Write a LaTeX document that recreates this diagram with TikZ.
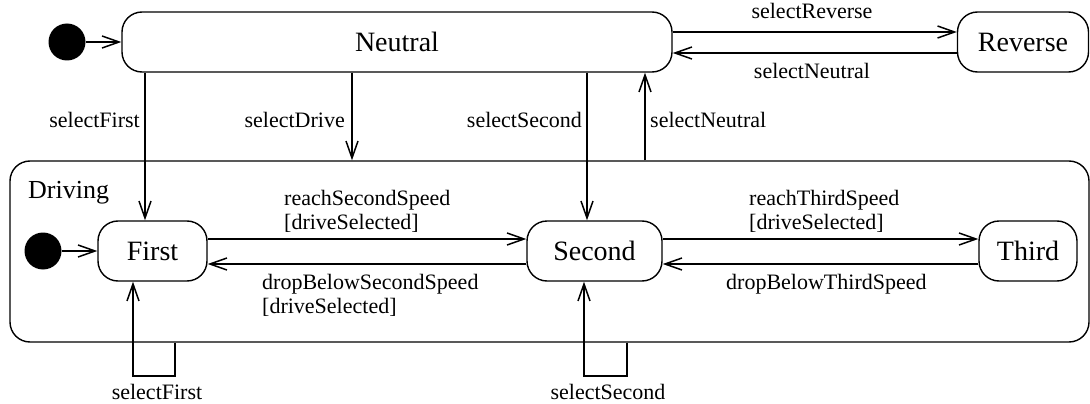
\documentclass[tikz,border=0pt]{standalone}
\usepackage{fontspec}
\setmainfont{Liberation Serif}
\usetikzlibrary{arrows.meta,positioning,calc}

\tikzset{
	state/.style={draw, rounded corners=20pt, line width=1.4pt, minimum height=60pt, inner sep=0pt, font=\fontsize{28}{32}\selectfont},
	start/.style={circle, fill, minimum size=37pt, inner sep=0pt},
	trans/.style={line width=1.5pt, -{Straight Barb[length=17pt,width=12pt,line width=1.5pt]}},
	lbl/.style={inner sep=0pt, font=\fontsize{22}{24}\selectfont},
}

\begin{document}
\begin{tikzpicture}[x=1pt,y=-1pt]

	\useasboundingbox (0,0) rectangle (1090,404);
	
	\node [start] (init1) at (67,42) {};
	
	\node [state, minimum width=550pt] (neutral) at (397,42) {Neutral};
	
	\node [state, minimum width=131pt] (reverse) at (1023,42) {Reverse};
	
	\node [state, minimum width=1079pt, minimum height=181pt] (driving) at (549.5,251.5) {};
	
	\node [anchor=base west, inner sep=0pt, font=\fontsize{26}{30}\selectfont] (drivinglbl) at (28,198) {Driving};
	
	\node [start] (init2) at (43,251) {};
	
	\node [state, minimum width=109pt] (first) at (152.5,251) {First};
	
	\node [state, minimum width=135pt] (second) at (594.5,251) {Second};
	
	\node [state, minimum width=98pt] (third) at (1028,251) {Third};
	
	% x positions of the vertical transitions
	\coordinate (xfirst) at (145,0);
	\coordinate (xdrive) at (352,0);
	\coordinate (xsecond) at (587,0);
	\coordinate (xneutral) at (645,0);
	
	\coordinate (loop1) at (175,376);
	\coordinate (loop2) at (627,376);
	
	\draw [trans] (init1) -- (neutral);
	
	\draw [trans] ([yshift=10pt]neutral.east) -- ([yshift=10pt]neutral.east -| reverse.west);
	
	\draw [trans] ([yshift=-11pt]reverse.west) -- ([yshift=-11pt]reverse.west -| neutral.east);
	
	\draw [trans] (neutral.south -| xfirst) -- (first.north -| xfirst);
	
	\draw [trans] (neutral.south -| xdrive) -- (driving.north -| xdrive);
	
	\draw [trans] (neutral.south -| xsecond) -- (second.north -| xsecond);
	
	\draw [trans] (driving.north -| xneutral) -- (neutral.south -| xneutral);
	
	\draw [trans] (init2) -- (first);
	
	\draw [trans] ([yshift=12pt]first.east) -- ([yshift=12pt]first.east -| second.west);
	
	\draw [trans] ([yshift=-13pt]second.west) -- ([yshift=-13pt]second.west -| first.east);
	
	\draw [trans] ([yshift=12pt]second.east) -- ([yshift=12pt]second.east -| third.west);
	
	\draw [trans] ([yshift=-13pt]third.west) -- ([yshift=-13pt]third.west -| second.east);
	
	\draw [trans] (driving.south -| loop1) -- (loop1) -| ([xshift=-19.5pt]first.south);
	
	\draw [trans] (driving.south -| loop2) -- (loop2) -| ([xshift=-10.5pt]second.south);
	
	\node [lbl, anchor=base east] (lselfirst) at (140,127) {selectFirst};
	\node [lbl, anchor=base east] (lseldrive) at (345,127) {selectDrive};
	\node [lbl, anchor=base east] (lselsecond) at (582,127) {selectSecond};
	\node [lbl, anchor=base west] (lselneutral) at (650,127) {selectNeutral};
	
	\node [lbl, anchor=base] (lselreverse) at (812,19) {selectReverse};
	\node [lbl, anchor=base] (lselneutralb) at (812,78) {selectNeutral};
	
	\node [lbl, anchor=base west, align=left] (lreachsecond) at (284,229) {reachSecondSpeed\\{}[driveSelected]};
	\node [lbl, anchor=base west, align=left] (ldropsecond) at (262,313) {dropBelowSecondSpeed\\{}[driveSelected]};
	\node [lbl, anchor=base west, align=left] (lreachthird) at (749,229) {reachThirdSpeed\\{}[driveSelected]};
	\node [lbl, anchor=base west] (ldropthird) at (726,289) {dropBelowThirdSpeed};
	
	\node [lbl, anchor=base] (lloopfirst) at (157,399) {selectFirst};
	\node [lbl, anchor=base] (lloopsecond) at (608,399) {selectSecond};

\end{tikzpicture}
\end{document}
